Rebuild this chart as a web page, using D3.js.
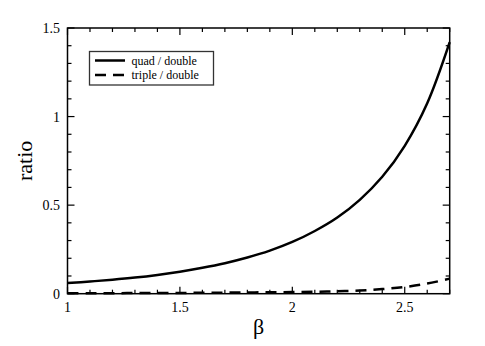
<!DOCTYPE html>
<html><head><meta charset="utf-8">
<script src="https://cdn.jsdelivr.net/npm/d3@7"></script>
<style>body{margin:0;background:#fff}svg{display:block}</style>
</head><body>
<svg id="c" width="485" height="346"></svg>
<script>
const beta = [1.0,1.1,1.2,1.3,1.4,1.5,1.6,1.7,1.8,1.9,2.0,2.1,2.2,2.3,2.4,2.5,2.6,2.7];
const quadDouble = [0.060,0.069,0.079,0.091,0.106,0.124,0.146,0.172,0.204,0.243,0.292,0.354,0.430,0.530,0.660,0.835,1.075,1.42];
const tripleDouble = [0.002,0.0025,0.003,0.0035,0.004,0.0045,0.005,0.006,0.007,0.008,0.009,0.011,0.014,0.018,0.026,0.038,0.057,0.085];
const xTicks = [1,1.5,2,2.5];
const xTickLabels = ["1","1.5","2","2.5"];
const yTicks = [0,0.5,1,1.5];
const yTickLabels = ["0","0.5","1","1.5"];
const seriesNames = ["quad / double","triple / double"];

const svg = d3.select("#c");
const L=67.5, R=449.7, T=28, B=293.7;
const x = d3.scaleLinear().domain([1,2.7]).range([L,R]);
const y = d3.scaleLinear().domain([0,1.5]).range([B,T]);
const font = "'Liberation Serif','Times New Roman',serif";

const xMinor = d3.range(1,2.7001,0.1).map(v=>+v.toFixed(2));
const yMinor = d3.range(0,1.5001,0.1).map(v=>+v.toFixed(2));
const g = svg.append("g");
function isMajor(v, arr){return arr.some(a=>Math.abs(a-v)<1e-6);}
xMinor.forEach(v=>{
  const len = isMajor(v,xTicks)?7:4;
  g.append("line").attr("x1",x(v)).attr("x2",x(v)).attr("y1",B).attr("y2",B-len).attr("stroke","#000").attr("stroke-width",1.2);
  g.append("line").attr("x1",x(v)).attr("x2",x(v)).attr("y1",T).attr("y2",T+len).attr("stroke","#000").attr("stroke-width",1.2);
});
yMinor.forEach(v=>{
  const len = isMajor(v,yTicks)?7:4;
  g.append("line").attr("x1",L).attr("x2",L+len).attr("y1",y(v)).attr("y2",y(v)).attr("stroke","#000").attr("stroke-width",1.2);
  g.append("line").attr("x1",R).attr("x2",R-len).attr("y1",y(v)).attr("y2",y(v)).attr("stroke","#000").attr("stroke-width",1.2);
});

xTicks.forEach((v,i)=>{
  svg.append("text").attr("x",x(v)).attr("y",B+18).attr("text-anchor","middle")
    .attr("font-family",font).attr("font-size",14).text(xTickLabels[i]);
});
yTicks.forEach((v,i)=>{
  svg.append("text").attr("x",L-7.5).attr("y",y(v)+5).attr("text-anchor","end")
    .attr("font-family",font).attr("font-size",14).text(yTickLabels[i]);
});

const line = d3.line().x((d,i)=>x(beta[i])).y(d=>y(d)).curve(d3.curveCatmullRom.alpha(0.5));
svg.append("path").attr("d",line(quadDouble)).attr("fill","none").attr("stroke","#000").attr("stroke-width",2.5);
svg.append("path").attr("d",line(tripleDouble)).attr("fill","none").attr("stroke","#000").attr("stroke-width",2.5).attr("stroke-dasharray","11,7");

svg.append("rect").attr("x",L).attr("y",T).attr("width",R-L).attr("height",B-T)
  .attr("fill","none").attr("stroke","#000").attr("stroke-width",1.5);

svg.append("text").attr("x",(L+R)/2).attr("y",334).attr("text-anchor","middle")
  .attr("font-family",font).attr("font-size",22).text("β");
svg.append("text").attr("transform",`translate(32,${(T+B)/2}) rotate(-90)`).attr("text-anchor","middle")
  .attr("font-family",font).attr("font-size",22).text("ratio");

const lg = svg.append("g");
lg.append("rect").attr("x",89.5).attr("y",51.5).attr("width",124).attr("height",33.5)
  .attr("fill","#fff").attr("stroke","#333").attr("stroke-width",1.3);
[0,1].forEach(i=>{
  const yy = 60.5 + i*14.5;
  lg.append("line").attr("x1",95).attr("x2",125).attr("y1",yy).attr("y2",yy)
    .attr("stroke","#000").attr("stroke-width",2.5).attr("stroke-dasharray", i===1?"11,7":null);
  lg.append("text").attr("x",131.5).attr("y",yy+4).attr("font-family",font).attr("font-size",12).text(seriesNames[i]);
});
</script>
</body></html>
